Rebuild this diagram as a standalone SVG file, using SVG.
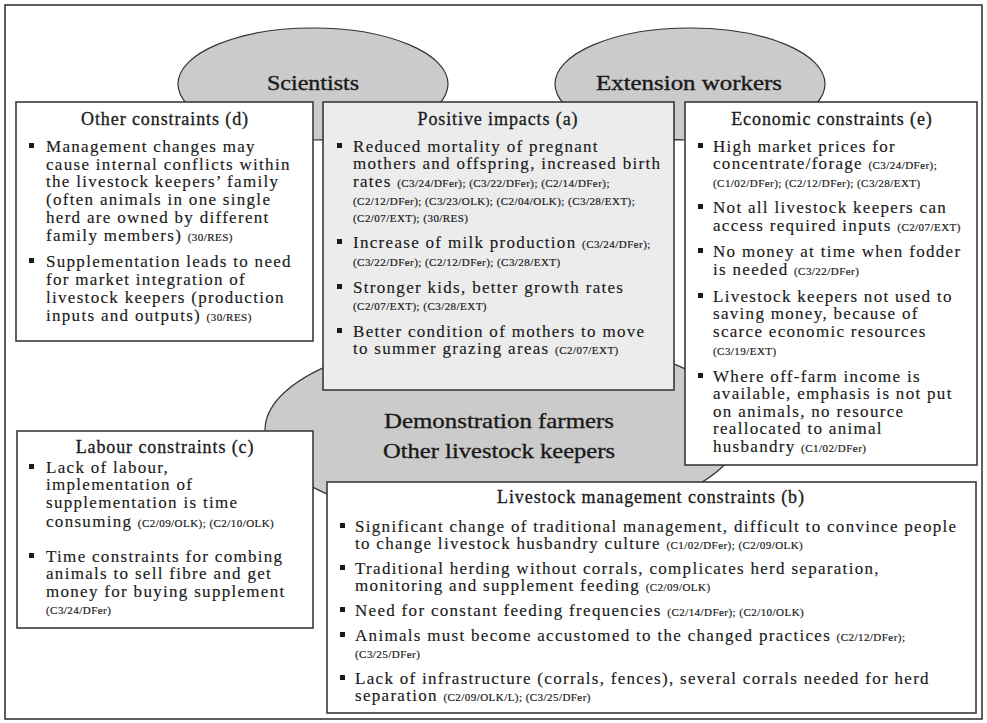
<svg xmlns="http://www.w3.org/2000/svg" width="987" height="723" viewBox="0 0 987 723">
<style>
  .frame{fill:#fff;stroke:#2a2a2a;stroke-width:1.5}
  .ell{fill:#cbcbcb;stroke:#333;stroke-width:1.2}
  .box{fill:#fff;stroke:#3a3a3a;stroke-width:1.6}
  .boxg{fill:#ececec;stroke:#3a3a3a;stroke-width:1.6}
  text{font-family:"Liberation Serif","Times New Roman",serif;fill:#1a1a1a}
  .actor{font-size:20px;stroke:#1a1a1a;stroke-width:0.35}
  .ttl{font-size:18px;letter-spacing:0.9px;text-anchor:middle;stroke:#1a1a1a;stroke-width:0.3}
  .bd{font-size:17px;letter-spacing:1.3px;stroke:#1a1a1a;stroke-width:0.15}
  .ct{font-size:11px;letter-spacing:0.45px;stroke:#1a1a1a;stroke-width:0.2}
  .bl{fill:#1a1a1a}
</style>
<rect class="frame" x="5" y="5" width="977" height="714"/>

<g id="actor-scientists">
  <ellipse class="ell" cx="313" cy="84" rx="135" ry="56"/>
  <text class="actor" x="313" y="90" text-anchor="middle" textLength="92" lengthAdjust="spacingAndGlyphs">Scientists</text>
</g>
<g id="actor-extension">
  <ellipse class="ell" cx="690" cy="84" rx="135" ry="56"/>
  <text class="actor" x="689" y="90" text-anchor="middle" textLength="186" lengthAdjust="spacingAndGlyphs">Extension workers</text>
</g>
<g id="actor-farmers">
  <ellipse class="ell" cx="503" cy="430" rx="238" ry="95"/>
  <text class="actor" x="499" y="428" style="font-size:22px" text-anchor="middle" textLength="230" lengthAdjust="spacingAndGlyphs">Demonstration farmers</text>
  <text class="actor" x="499" y="458" style="font-size:22px" text-anchor="middle" textLength="232" lengthAdjust="spacingAndGlyphs">Other livestock keepers</text>
</g>

<g id="connectors"></g>

<g id="box-d">
  <rect class="box" x="16" y="102" width="297" height="239"/>
  <text class="ttl" x="165" y="125">Other constraints (d)</text>
  <rect class="bl" x="29" y="143" width="5" height="5"/>
  <text class="bd" x="46" y="152">Management changes may</text>
  <text class="bd" x="46" y="169.5">cause internal conflicts within</text>
  <text class="bd" x="46" y="187">the livestock keepers’ family</text>
  <text class="bd" x="46" y="205">(often animals in one single</text>
  <text class="bd" x="46" y="223">herd are owned by different</text>
  <text class="bd" x="46" y="241">family members) <tspan class="ct">(30/RES)</tspan></text>
  <rect class="bl" x="29" y="258" width="5" height="5"/>
  <text class="bd" x="46" y="267">Supplementation leads to need</text>
  <text class="bd" x="46" y="285">for market integration of</text>
  <text class="bd" x="46" y="303">livestock keepers (production</text>
  <text class="bd" x="46" y="321">inputs and outputs) <tspan class="ct">(30/RES)</tspan></text>
</g>

<g id="box-a">
  <rect class="boxg" x="323" y="102" width="351" height="288"/>
  <text class="ttl" x="498" y="125">Positive impacts (a)</text>
  <rect class="bl" x="337" y="143" width="5" height="5"/>
  <text class="bd" x="353" y="152">Reduced mortality of pregnant</text>
  <text class="bd" x="353" y="169">mothers and offspring, increased birth</text>
  <text class="bd" x="353" y="187">rates <tspan class="ct">(C3/24/DFer); (C3/22/DFer); (C2/14/DFer);</tspan></text>
  <text class="ct" x="353" y="205">(C2/12/DFer); (C3/23/OLK); (C2/04/OLK); (C3/28/EXT);</text>
  <text class="ct" x="353" y="222">(C2/07/EXT); (30/RES)</text>
  <rect class="bl" x="337" y="239" width="5" height="5"/>
  <text class="bd" x="353" y="248">Increase of milk production <tspan class="ct">(C3/24/DFer);</tspan></text>
  <text class="ct" x="353" y="266">(C3/22/DFer); (C2/12/DFer); (C3/28/EXT)</text>
  <rect class="bl" x="337" y="284" width="5" height="5"/>
  <text class="bd" x="353" y="293">Stronger kids, better growth rates</text>
  <text class="ct" x="353" y="310">(C2/07/EXT); (C3/28/EXT)</text>
  <rect class="bl" x="337" y="328" width="5" height="5"/>
  <text class="bd" x="353" y="337">Better condition of mothers to move</text>
  <text class="bd" x="353" y="354">to summer grazing areas <tspan class="ct">(C2/07/EXT)</tspan></text>
</g>

<g id="box-e">
  <rect class="box" x="685" y="102" width="292" height="363"/>
  <text class="ttl" x="832" y="125">Economic constraints (e)</text>
  <rect class="bl" x="698" y="143" width="5" height="5"/>
  <text class="bd" x="713" y="152">High market prices for</text>
  <text class="bd" x="713" y="169">concentrate/forage <tspan class="ct">(C3/24/DFer);</tspan></text>
  <text class="ct" x="713" y="187">(C1/02/DFer); (C2/12/DFer); (C3/28/EXT)</text>
  <rect class="bl" x="698" y="204" width="5" height="5"/>
  <text class="bd" x="713" y="213">Not all livestock keepers can</text>
  <text class="bd" x="713" y="231">access required inputs <tspan class="ct">(C2/07/EXT)</tspan></text>
  <rect class="bl" x="698" y="248" width="5" height="5"/>
  <text class="bd" x="713" y="257">No money at time when fodder</text>
  <text class="bd" x="713" y="275">is needed <tspan class="ct">(C3/22/DFer)</tspan></text>
  <rect class="bl" x="698" y="293" width="5" height="5"/>
  <text class="bd" x="713" y="302">Livestock keepers not used to</text>
  <text class="bd" x="713" y="319">saving money, because of</text>
  <text class="bd" x="713" y="337">scarce economic resources</text>
  <text class="ct" x="713" y="355">(C3/19/EXT)</text>
  <rect class="bl" x="698" y="373" width="5" height="5"/>
  <text class="bd" x="713" y="382">Where off-farm income is</text>
  <text class="bd" x="713" y="399">available, emphasis is not put</text>
  <text class="bd" x="713" y="417">on animals, no resource</text>
  <text class="bd" x="713" y="434">reallocated to animal</text>
  <text class="bd" x="713" y="452">husbandry <tspan class="ct">(C1/02/DFer)</tspan></text>
</g>

<g id="box-c">
  <rect class="box" x="17" y="431" width="296" height="197"/>
  <text class="ttl" x="165" y="453">Labour constraints (c)</text>
  <rect class="bl" x="29" y="464" width="5" height="5"/>
  <text class="bd" x="46" y="473">Lack of labour,</text>
  <text class="bd" x="46" y="490">implementation of</text>
  <text class="bd" x="46" y="508">supplementation is time</text>
  <text class="bd" x="46" y="527">consuming <tspan class="ct">(C2/09/OLK); (C2/10/OLK)</tspan></text>
  <rect class="bl" x="29" y="553" width="5" height="5"/>
  <text class="bd" x="46" y="562">Time constraints for combing</text>
  <text class="bd" x="46" y="579">animals to sell fibre and get</text>
  <text class="bd" x="46" y="597">money for buying supplement</text>
  <text class="ct" x="46" y="614">(C3/24/DFer)</text>
</g>

<g id="box-b">
  <rect class="box" x="327" y="482" width="649" height="231"/>
  <text class="ttl" x="651" y="503">Livestock management constraints (b)</text>
  <rect class="bl" x="340" y="523" width="5" height="5"/>
  <text class="bd" x="355" y="532">Significant change of traditional management, difficult to convince people</text>
  <text class="bd" x="355" y="549">to change livestock husbandry culture <tspan class="ct">(C1/02/DFer); (C2/09/OLK)</tspan></text>
  <rect class="bl" x="340" y="565" width="5" height="5"/>
  <text class="bd" x="355" y="574">Traditional herding without corrals, complicates herd separation,</text>
  <text class="bd" x="355" y="591">monitoring and supplement feeding <tspan class="ct">(C2/09/OLK)</tspan></text>
  <rect class="bl" x="340" y="607" width="5" height="5"/>
  <text class="bd" x="355" y="616">Need for constant feeding frequencies <tspan class="ct">(C2/14/DFer); (C2/10/OLK)</tspan></text>
  <rect class="bl" x="340" y="632" width="5" height="5"/>
  <text class="bd" x="355" y="641">Animals must become accustomed to the changed practices <tspan class="ct">(C2/12/DFer);</tspan></text>
  <text class="ct" x="355" y="658">(C3/25/DFer)</text>
  <rect class="bl" x="340" y="675" width="5" height="5"/>
  <text class="bd" x="355" y="684">Lack of infrastructure (corrals, fences), several corrals needed for herd</text>
  <text class="bd" x="355" y="701">separation <tspan class="ct">(C2/09/OLK/L); (C3/25/DFer)</tspan></text>
</g>
</svg>
